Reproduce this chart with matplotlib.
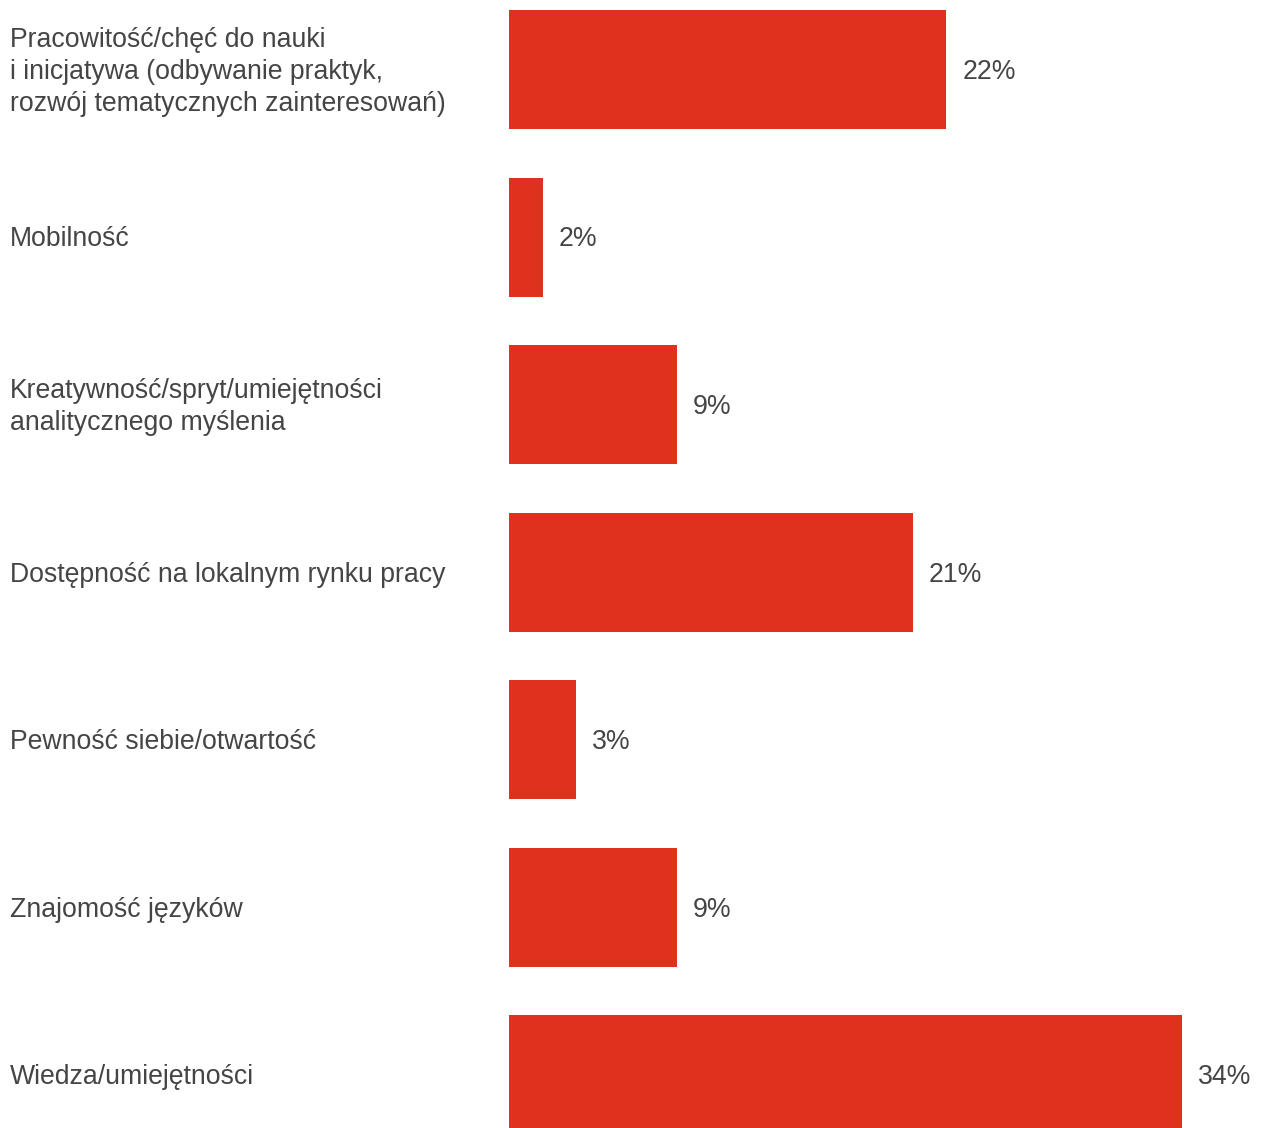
import matplotlib
matplotlib.use("Agg")
import matplotlib.pyplot as plt
from matplotlib.transforms import blended_transform_factory, offset_copy

categories = [
    "Pracowitość/chęć do nauki\ni inicjatywa (odbywanie praktyk,\nrozwój tematycznych zainteresowań)",
    "Mobilność",
    "Kreatywność/spryt/umiejętności\nanalitycznego myślenia",
    "Dostępność na lokalnym rynku pracy",
    "Pewność siebie/otwartość",
    "Znajomość języków",
    "Wiedza/umiejętności",
]
values = [22.1, 1.7, 8.5, 20.4, 3.4, 8.5, 34.0]
value_labels = ["22%", "2%", "9%", "21%", "3%", "9%", "34%"]

BAR_COLOR = "#E0301E"
TEXT_COLOR = "#454545"
W, H = 1261, 1128

plt.rcParams['font.family'] = ['Liberation Sans', 'DejaVu Sans']
fig = plt.figure(figsize=(W / 100, H / 100), dpi=100)
ax = fig.add_axes([509 / W, 0, 1 - 509 / W, 1])

pitch = 167.5
top_center = 69.5
ypos = list(range(len(categories)))
ax.barh(ypos, values, height=119 / pitch, color=BAR_COLOR, align='center')

ax.set_xlim(0, (W - 509) / ((1182 - 509) / 34.0))
ax.set_ylim((H - top_center) / pitch, -top_center / pitch)
ax.axis('off')

trans = blended_transform_factory(fig.transFigure, ax.transData)
trans = offset_copy(trans, fig=fig, x=0, y=-2.5, units='dots')
for y, cat in zip(ypos, categories):
    ax.text(10 / W, y, cat, transform=trans, ha='left', va='center',
            fontsize=19.2, color=TEXT_COLOR, linespacing=1.3)

for y, v, lab in zip(ypos, values, value_labels):
    ax.annotate(lab, (v, y), xytext=(16 * 0.72, -2.5 * 0.72), textcoords='offset points',
                ha='left', va='center', fontsize=19.2, color=TEXT_COLOR)

fig.savefig("out.png", dpi=100, facecolor='white')
